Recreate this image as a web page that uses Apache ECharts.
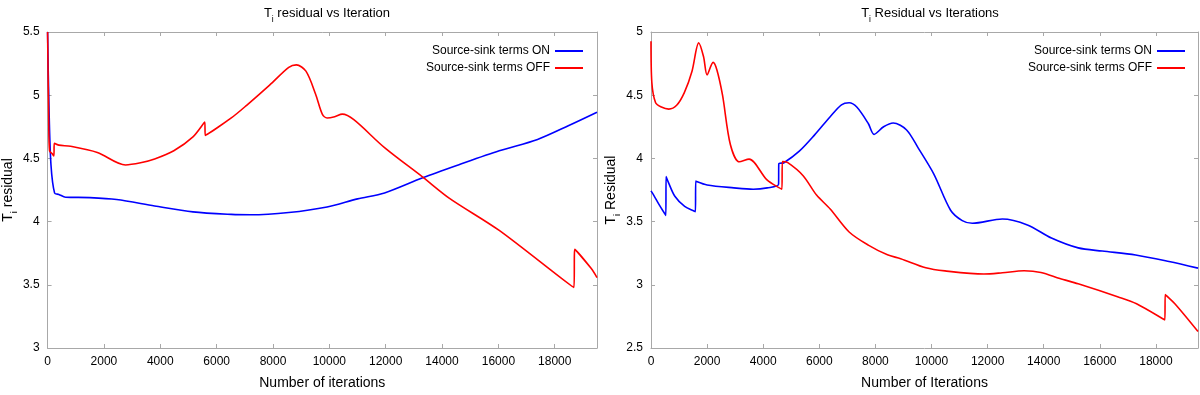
<!DOCTYPE html>
<html>
<head>
<meta charset="utf-8">
<script src="https://cdn.jsdelivr.net/npm/echarts@6/dist/echarts.min.js"></script>
<style>
    html, body {
        margin: 0;
        padding: 0;
        background: #ffffff;
    }
    #container {
        width: 1200px;
        height: 395px;
    }
</style>
</head>
<body>
<div id="container"></div>
<script>
    // iterations / residual pairs
    var leftOn = [[0,5.5],[50,4.9],[120,4.45],[250,4.225],[400,4.215],[640,4.193],[1500,4.19],[2450,4.175],[3800,4.124],[5160,4.077],[6520,4.057],[7200,4.054],[8560,4.072],[9920,4.116],[11000,4.18],[11960,4.227],[13315,4.347],[14600,4.45],[16030,4.56],[17390,4.65],[18500,4.76],[19500,4.865]];
    var leftOff = [[0,5.5],[40,4.8],[70,4.56],[150,4.54],[225,4.52],[235,4.62],[400,4.605],[815,4.596],[1766,4.547],[2766,4.448],[3300,4.465],[3800,4.495],[4480,4.56],[5160,4.67],[5580,4.787],[5595,4.682],[6520,4.82],[7065,4.92],[7880,5.08],[8560,5.22],[8830,5.24],[9170,5.19],[9510,5.01],[9750,4.85],[9920,4.82],[10190,4.83],[10460,4.85],[10870,4.806],[11960,4.585],[13315,4.352],[14265,4.184],[16030,3.93],[18680,3.479],[18710,3.78],[19290,3.63],[19500,3.557]];
    var rightOn = [[0,3.743],[95,3.71],[300,3.63],[530,3.548],[537,3.857],[620,3.81],[850,3.70],[1200,3.62],[1584,3.579],[1594,3.82],[2000,3.79],[2952,3.767],[3645,3.756],[4143,3.767],[4548,3.795],[4555,3.955],[4740,3.966],[5287,4.057],[5833,4.186],[6380,4.328],[6790,4.424],[7063,4.44],[7336,4.406],[7746,4.276],[7951,4.19],[8292,4.25],[8634,4.28],[9112,4.225],[9523,4.083],[10083,3.876],[10680,3.59],[11096,3.508],[11454,3.487],[12525,3.521],[13418,3.474],[14275,3.37],[15229,3.292],[16086,3.267],[17277,3.236],[18466,3.184],[19500,3.132]];
    var rightOff = [[0,4.927],[30,4.6],[164,4.44],[369,4.406],[633,4.39],[915,4.42],[1188,4.52],[1462,4.69],[1700,4.914],[1872,4.806],[2000,4.66],[2213,4.76],[2350,4.7],[2550,4.5],[2829,4.11],[3150,3.973],[3498,3.994],[4135,3.83],[4669,3.756],[4680,3.976],[4877,3.966],[5423,3.863],[5902,3.71],[6388,3.6],[7063,3.418],[7746,3.314],[8429,3.237],[8900,3.207],[9795,3.135],[10478,3.11],[11869,3.085],[12527,3.095],[13300,3.111],[13900,3.098],[14576,3.05],[15229,3.008],[16657,2.904],[17309,2.85],[18320,2.722],[18330,2.922],[18675,2.85],[19500,2.63]];

    var seriesNames = ['Source-sink terms ON', 'Source-sink terms OFF'];
    var titles = ['residual vs Iteration', 'Residual vs Iterations'];
    var xNames = ['Number of iterations', 'Number of Iterations'];
    var yNames = ['residual', 'Residual'];

    var font = 'Liberation Sans, Arial, sans-serif';
    var boxColor = '#a8a8a8';

    function richT(size) {
        return {
            t: {fontSize: size, fontFamily: font, color: '#000', fontWeight: 'normal'},
            s: {fontSize: size * 0.65, fontFamily: font, color: '#000', fontWeight: 'normal',
                verticalAlign: 'bottom', padding: [0, 0, -4, 0]}
        };
    }

    function xAx(grid, name, pos) {
        var ax = {
            type: 'value', gridIndex: grid, min: 0, max: 19500, interval: 2000, position: pos,
            axisLine: {show: true, onZero: false, lineStyle: {color: boxColor, width: 1}},
            axisTick: {show: true, inside: true, length: 4, lineStyle: {color: boxColor}},
            splitLine: {show: false},
            axisLabel: {show: pos === 'bottom', color: '#000', fontSize: 12, fontFamily: font, margin: 8,
                showMaxLabel: false, formatter: function (v) { return String(v); }}
        };
        if (pos === 'bottom') {
            ax.name = name;
            ax.nameLocation = 'middle';
            ax.nameGap = 28;
            ax.nameTextStyle = {fontSize: 14, fontFamily: font, color: '#000'};
        }
        return ax;
    }

    function yAx(grid, min, max, name, pos) {
        var ax = {
            type: 'value', gridIndex: grid, min: min, max: max, interval: 0.5, position: pos,
            axisLine: {show: true, onZero: false, lineStyle: {color: boxColor, width: 1}},
            axisTick: {show: true, inside: true, length: 4, lineStyle: {color: boxColor}},
            splitLine: {show: false},
            axisLabel: {show: pos === 'left', color: '#000', fontSize: 12, fontFamily: font, margin: 8}
        };
        if (pos === 'left') {
            ax.name = '{t|T}{s|i}{t| ' + name + '}';
            ax.nameLocation = 'middle';
            ax.nameGap = 26;
            ax.nameTextStyle = {rich: richT(14)};
        }
        return ax;
    }

    function line(name, data, idx, color) {
        return {
            name: name, type: 'line', data: data, xAxisIndex: idx, yAxisIndex: idx,
            symbol: 'none', smooth: 0.3, animation: false,
            lineStyle: {color: color, width: 1.6}, itemStyle: {color: color}
        };
    }

    var chart = echarts.init(document.getElementById('container'));
    chart.setOption({
        animation: false,
        backgroundColor: '#ffffff',
        title: [
            {text: '{t|T}{s|i}{t| ' + titles[0] + '}', left: 322, top: 2, textAlign: 'center',
                textStyle: {rich: richT(13)}},
            {text: '{t|T}{s|i}{t| ' + titles[1] + '}', left: 925, top: 2, textAlign: 'center',
                textStyle: {rich: richT(13)}}
        ],
        legend: [
            {data: seriesNames, orient: 'vertical', right: 611, top: 40, align: 'right',
                itemWidth: 28, itemHeight: 2, itemGap: 5,
                textStyle: {fontSize: 12, fontFamily: font, color: '#000'}},
            {data: seriesNames, orient: 'vertical', right: 9, top: 40, align: 'right',
                itemWidth: 28, itemHeight: 2, itemGap: 5,
                textStyle: {fontSize: 12, fontFamily: font, color: '#000'}}
        ],
        grid: [
            {left: 46, right: 603, top: 32, bottom: 42},
            {left: 651, right: 2, top: 32, bottom: 42}
        ],
        xAxis: [
            xAx(0, xNames[0], 'bottom'),
            xAx(1, xNames[1], 'bottom'),
            xAx(0, '', 'top'),
            xAx(1, '', 'top')
        ],
        yAxis: [
            yAx(0, 3, 5.5, yNames[0], 'left'),
            yAx(1, 2.5, 5, yNames[1], 'left'),
            yAx(0, 3, 5.5, '', 'right'),
            yAx(1, 2.5, 5, '', 'right')
        ],
        series: [
            line(seriesNames[0], leftOn, 0, '#0000ff'),
            line(seriesNames[1], leftOff, 0, '#ff0000'),
            line(seriesNames[0], rightOn, 1, '#0000ff'),
            line(seriesNames[1], rightOff, 1, '#ff0000')
        ]
    });
</script>
</body>
</html>
